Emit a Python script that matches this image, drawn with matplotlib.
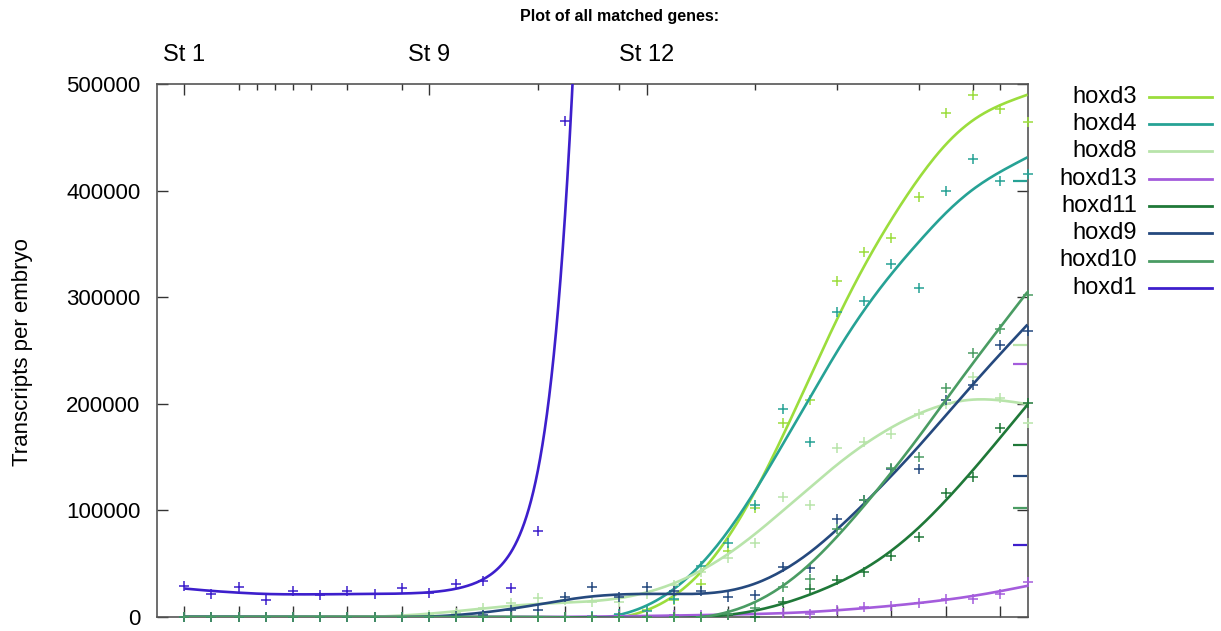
import numpy as np
import matplotlib
matplotlib.use('Agg')
import matplotlib.pyplot as plt
from matplotlib.lines import Line2D

plt.rcParams['font.family'] = ['Liberation Sans', 'DejaVu Sans']

# sample positions (one per time point)
positions = list(range(1, 33))

genes = ['hoxd3', 'hoxd4', 'hoxd8', 'hoxd13', 'hoxd11', 'hoxd9', 'hoxd10', 'hoxd1']
colors = ['#9BDD3C', '#26A295', '#B8E4AA', '#A45CDC', '#1F7838', '#25497E', '#4A9C63', '#3D1FCC']

hoxd3 = [0, 0, 0, 0, 0, 0, 0, 0, 0, 0, 0, 0, 0, 0, 0, 0,
         2000, 7000, 16000, 31000, 62000, 102000, 182000, 204000,
         315000, 342000, 356000, 394000, 473000, 490000, 477000, 464000]
hoxd4 = [0, 0, 0, 0, 0, 0, 0, 0, 0, 0, 0, 0, 0, 0, 0, 1000,
         3000, 6000, 17000, 48000, 69000, 105000, 195000, 164000,
         286000, 296000, 331000, 309000, 400000, 430000, 409000, 416000]
hoxd8 = [0, 0, 0, 0, 0, 0, 0, 0, 0, 2000, 4000, 8000, 13000, 18000, 16000, 14000,
         14000, 22000, 30000, 42000, 55000, 69000, 113000, 105000,
         159000, 164000, 172000, 190000, 200000, 225000, 205000, 182000]
hoxd13 = [0, 0, 0, 0, 0, 0, 0, 0, 0, 0, 0, 0, 0, 0, 0, 0,
          1000, 1000, 1500, 2000, 2500, 3000, 3700, 3000,
          6600, 9400, 10500, 13500, 17000, 16500, 22000, 33000]
hoxd11 = [0, 0, 0, 0, 0, 0, 0, 0, 0, 0, 0, 0, 0, 0, 0, 0,
          0, 0, 0, 0, 2000, 0, 14000, 26000,
          35000, 42000, 57000, 75000, 116000, 131000, 177000, 201000]
hoxd9 = [0, 0, 0, 0, 0, 0, 0, 0, 0, 0, 1000, 2000, 6600, 6600, 19000, 28000,
         19000, 28000, 24000, 24000, 19000, 21000, 47000, 46000,
         92000, 110000, 139000, 139000, 204000, 218000, 255000, 268000]
hoxd10 = [0, 0, 0, 0, 0, 0, 0, 0, 0, 0, 0, 0, 0, 0, 0, 0,
          0, 0, 0, 0, 3000, 8000, 28000, 36000,
          83000, 110000, 140000, 150000, 215000, 248000, 270000, 302000]
# hoxd1 leaves the plot after St 12, later values lie far above the top
hoxd1 = [29000, 21600, 28000, 16000, 24000, 20600, 24000, 21600,
         27000, 22500, 31000, 33500, 27500, 81000, 465000, 2000000,
         3000000, 4000000, 5000000, 6000000, 7000000, 8000000, 9000000, 10000000,
         11000000, 12000000, 13000000, 14000000, 15000000, 16000000, 17000000, 18000000]
series = [hoxd3, hoxd4, hoxd8, hoxd13, hoxd11, hoxd9, hoxd10, hoxd1]
# hoxd1 spans orders of magnitude, so it is smoothed on a log scale
log_smooth = [False, False, False, False, False, False, False, True]
smooth_lam = [6, 6, 6, 6, 6, 6, 6, 4]

# short marks sitting just inside the right border
edge_pos = 31.72
edge_vals = [None, 409000, 255000, 237000, 161000, 132000, 102000, 68000]

# stage markers on the top axis
stage_pos = [1, 10, 18]
stage_labels = ['St 1', 'St 9', 'St 12']
stage_minor = [3, 3.67, 4.33, 5, 5.67, 7, 9, 14, 17, 22, 25, 28, 30, 31]
bottom_ticks = list(range(1, 33, 2))
y_ticks = [0, 100000, 200000, 300000, 400000, 500000]


def smooth_curve(xv, yv, lam=6.0, m=12, log=False):
    """cubic smoothing spline approximated on a fine grid"""
    xv = np.asarray(xv, float)
    yv = np.asarray(yv, float)
    if log:
        yv = np.log(yv)
    n = (len(xv) - 1) * m + 1
    xs = np.linspace(xv[0], xv[-1], n)
    h = xs[1] - xs[0]
    A = np.zeros((len(xv), n))
    A[np.arange(len(xv)), np.arange(len(xv)) * m] = 1.0
    D = np.diff(np.eye(n), 2, axis=0) / h ** 2
    M = A.T @ A + lam * h * (D.T @ D)
    z = np.linalg.solve(M, A.T @ yv)
    if log:
        z = np.exp(z)
    return xs, z


fig = plt.figure(figsize=(12.21, 6.31), dpi=100)
ax = fig.add_axes([157 / 1221, 1 - 617 / 631, 870.5 / 1221, 533 / 631])

ymax = 500000
for i, (name, vals, c) in enumerate(zip(genes, series, colors)):
    xs, zs = smooth_curve(positions, vals, smooth_lam[i], log=log_smooth[i])
    ax.plot(xs, zs, color=c, lw=1.9, zorder=3 + i, solid_capstyle='butt')
    px = [p for p, v in zip(positions, vals) if v <= ymax]
    py = [v for v in vals if v <= ymax]
    ax.plot(px, py, ls='none', marker='+', ms=7.5, mew=1.1, color=c,
            clip_on=False, zorder=3 + i)
    if edge_vals[i] is not None:
        ax.plot([edge_pos], [edge_vals[i]], ls='none', marker='_', ms=10.5,
                mew=1.6, color=c, clip_on=False, zorder=3 + i)

ax.set_xlim(0, 32)
ax.set_ylim(0, ymax)
ax.set_yticks(y_ticks)
ax.set_yticklabels([str(v) for v in y_ticks])
ax.set_xticks(bottom_ticks)
ax.set_xticklabels([])
ax.tick_params(axis='both', direction='in', length=8, width=1.0, color='#333333',
               labelsize=16, pad=12, right=True, top=False)
for s in ax.spines.values():
    s.set_color('#555555')
    s.set_linewidth(1.2)

ax2 = ax.twiny()
ax2.set_xlim(0, 32)
ax2.set_xticks(stage_pos)
ax2.set_xticklabels(stage_labels)
ax2.set_xticks(stage_minor, minor=True)
ax2.tick_params(axis='x', which='major', direction='in', length=8, width=1.0,
                color='#333333', labelsize=17, pad=13)
ax2.tick_params(axis='x', which='minor', direction='in', length=4, width=1.0,
                color='#333333')
for s in ax2.spines.values():
    s.set_visible(False)

fig.text(23 / 1221, 1 - 352 / 631, 'Transcripts per embryo', rotation=90,
         ha='center', va='center', fontsize=16)
fig.text(620 / 1221, 1 - 17 / 631, 'Plot of all matched genes:', ha='center',
         va='center', fontsize=11.5, fontweight='bold')

# key on the right
for i, (name, c) in enumerate(zip(genes, colors)):
    yk = 1 - (96.7 + 27.3 * i) / 631
    fig.text(1137 / 1221, yk, name, ha='right', va='center', fontsize=17)
    fig.add_artist(Line2D([1149 / 1221, 1212 / 1221], [yk, yk],
                          transform=fig.transFigure, color=c, lw=2.0))

fig.savefig('out.png', dpi=100)
